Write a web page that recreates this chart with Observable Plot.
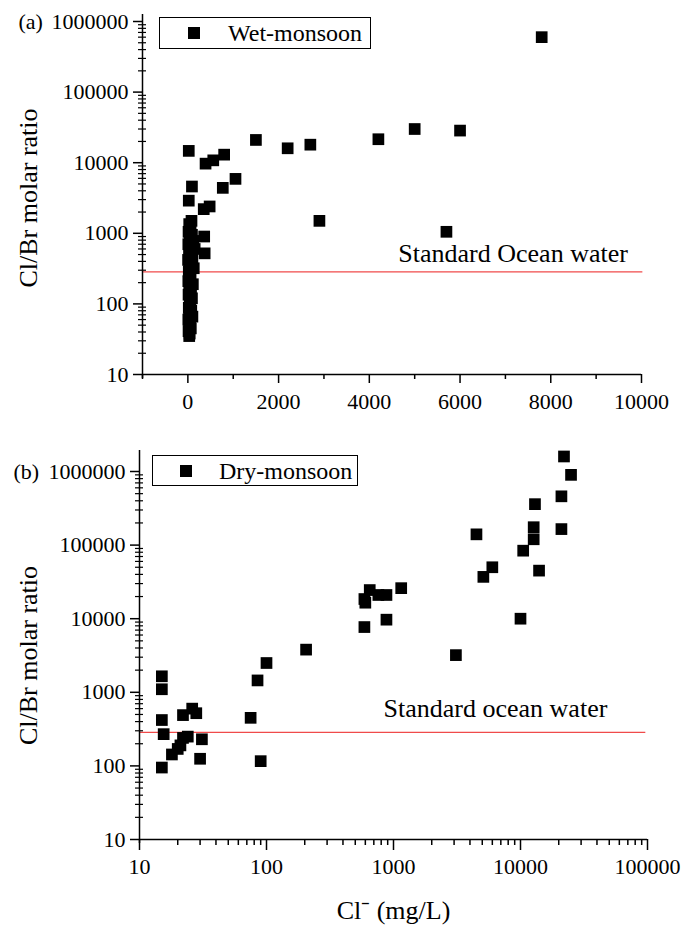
<!DOCTYPE html>
<html><head><meta charset="utf-8">
<script src="https://cdn.jsdelivr.net/npm/d3@7"></script>
<script src="https://cdn.jsdelivr.net/npm/@observablehq/plot@0.6"></script>
<style>
body{margin:0;background:#fff;font-family:"Liberation Serif","Times New Roman",serif;}
#wrap{position:relative;width:684px;height:931px;overflow:hidden;}
#wrap svg{display:block;}
.legend{position:absolute;border:1px solid #000;background:#fff;box-sizing:border-box;}
.legend .sw{position:absolute;width:12px;height:12px;background:#000;}
.legend .lt{position:absolute;font-size:24px;line-height:1;white-space:nowrap;color:#000;}
</style></head>
<body><div id="wrap"></div>
<script>
// ---------- data ----------
const wetCl = [7800, 2700, 4200, 5000, 6000, 2900, 5700, 20, 1500, 2200, 390, 560, 800, 90, 770, 1050, 20, 350, 480, 80, 360, 370,
  30, 60, 15, 90, 40, 120, 10, 70, 150, 25, 50, 100, 5, 80, 35, 130, 20, 60, 45, 10, 110, 30, 70, 15, 90, 40, 55, 20, 75, 30, 100, 10, 50, 25, 65, 15, 40, 30];
const wetRatio = [600000, 18000, 21500, 30000, 28500, 1500, 1050, 14700, 21000, 16000, 9700, 10800, 13000, 4600, 4400, 5900, 2900, 2200, 2400, 1500, 900, 520,
  1350, 1200, 1050, 950, 850, 780, 700, 640, 600, 560, 500, 460, 420, 380, 350, 320, 290, 260, 235, 210, 190, 170, 150, 135, 120, 108, 97, 88, 80, 72, 66, 60, 55, 50, 45, 41, 38, 35];

const dryCl = [22000, 25000, 21000, 13000, 12700, 12700, 21000, 4500, 10500, 14000, 6000, 5100, 1150, 880, 880, 3100, 10000,
  590, 600, 590, 650, 760, 15, 15, 85, 100, 205, 26, 15, 15.5, 15, 18, 20, 21, 22, 22, 24, 28, 30, 31, 75, 90];
const dryRatio = [1600000, 900000, 460000, 360000, 175000, 120000, 165000, 140000, 84000, 45000, 50000, 37000, 26000, 21000, 9700, 3200, 10000,
  18500, 16500, 7700, 24500, 21000, 1650, 1100, 1450, 2500, 3800, 600, 420, 270, 95, 143, 170, 190, 240, 490, 250, 520, 125, 230, 450, 116];

const oceanRatio = 285;
const wetXMajor = [0, 2000, 4000, 6000, 8000, 10000];
const wetXMinor = [-1000, 1000, 3000, 5000, 7000, 9000];
const logMajor = [10, 100, 1000, 10000, 100000, 1000000];
const logDecades = [10, 100, 1000, 10000, 100000];
const minorMult = [2, 3, 4, 5, 6, 7, 8, 9];
const logMinor = logDecades.flatMap(d => minorMult.map(m => m * d));
const dryXMajor = [10, 100, 1000, 10000, 100000];

// ---------- drawing ----------
const serif = '"Liberation Serif","Times New Roman",serif';
const red = "#f04a4a";
const noText = () => "";
const fmt = d3.format("d");

function dots(xs, ys) {
  return Plot.dot(d3.range(xs.length), {x: i => xs[i], y: i => ys[i], symbol: "square", r: 6.6, fill: "#000", stroke: "none"});
}

const topPlot = Plot.plot({
  width: 684, height: 425,
  marginLeft: 142, marginRight: 43, marginTop: 21, marginBottom: 51,
  style: {fontFamily: serif, fontSize: "22px", color: "#000", background: "#fff", overflow: "visible"},
  x: {type: "linear", domain: [-1000, 10000], label: null},
  y: {type: "log", domain: [10, 1000000], label: null},
  marks: [
    Plot.ruleY([oceanRatio], {x1: -1000, x2: 10030, stroke: red, strokeWidth: 1.3}),
    Plot.text(["Standard Ocean water"], {x: 9700, y: oceanRatio, textAnchor: "end", lineAnchor: "bottom", dy: -10, fontSize: 26}),
    dots(wetCl, wetRatio),
    Plot.ruleY([10], {stroke: "#000", strokeWidth: 1.5}),
    Plot.ruleX([-1000], {stroke: "#000", strokeWidth: 1.5, insetTop: -7, insetBottom: -4}),
    Plot.axisX({ticks: wetXMajor, tickSize: 9, tickPadding: 10, tickFormat: fmt, label: null, strokeWidth: 1.5}),
    Plot.axisX({ticks: wetXMinor, tickSize: 5, tickFormat: noText, label: null, strokeWidth: 1.5}),
    Plot.axisY({ticks: logMajor, tickSize: 9, tickPadding: 5, tickFormat: fmt, label: null, strokeWidth: 1.5}),
    Plot.axisY({ticks: logMinor, tickSize: 8, dx: 4, tickFormat: noText, label: null, strokeWidth: 1.2}),
    Plot.text(["Cl/Br molar ratio"], {frameAnchor: "left", rotate: -90, dx: -114, fontSize: 26, textAnchor: "middle", lineAnchor: "middle"}),
    Plot.text(["(a)"], {frameAnchor: "top-left", dx: -124, textAnchor: "start", fontSize: 22, lineAnchor: "middle"})
  ]
});

const botPlot = Plot.plot({
  width: 684, height: 506,
  marginLeft: 139, marginRight: 37, marginTop: 46, marginBottom: 92,
  style: {fontFamily: serif, fontSize: "22px", color: "#000", background: "#fff", overflow: "visible"},
  x: {type: "log", domain: [10, 100000], label: null},
  y: {type: "log", domain: [10, 1000000], label: null},
  marks: [
    Plot.ruleY([oceanRatio], {x1: 10, x2: 97000, stroke: red, strokeWidth: 1.3}),
    Plot.text(["Standard ocean water"], {x: 835, y: oceanRatio, textAnchor: "start", lineAnchor: "bottom", dy: -15, fontSize: 26}),
    dots(dryCl, dryRatio),
    Plot.ruleY([10], {stroke: "#000", strokeWidth: 1.5}),
    Plot.ruleX([10], {stroke: "#000", strokeWidth: 1.5, insetTop: -21, insetBottom: -4}),
    Plot.axisX({ticks: dryXMajor, tickSize: 11, tickPadding: 8, tickFormat: fmt, label: null, strokeWidth: 1.5}),
    Plot.axisX({ticks: logMinor.filter(v => v < 100000), tickSize: 6, tickFormat: noText, label: null, strokeWidth: 1.5}),
    Plot.axisY({ticks: logMajor, tickSize: 9, tickPadding: 5, tickFormat: fmt, label: null, strokeWidth: 1.5}),
    Plot.axisY({ticks: logMinor, tickSize: 8, dx: 4, tickFormat: noText, label: null, strokeWidth: 1.2}),
    Plot.text(["Cl/Br molar ratio"], {frameAnchor: "left", rotate: -90, dx: -111, fontSize: 26, textAnchor: "middle", lineAnchor: "middle"}),
    Plot.text(["(b)"], {frameAnchor: "top-left", dx: -126, textAnchor: "start", fontSize: 22, lineAnchor: "middle"}),
    Plot.text(["Cl\u207B (mg/L)"], {frameAnchor: "bottom", dy: 79, fontSize: 26, lineAnchor: "bottom"})
  ]
});

const wrap = document.getElementById("wrap");
wrap.appendChild(topPlot);
wrap.appendChild(botPlot);

function legend(left, top, width, height, label, swX, txtX) {
  const box = document.createElement("div");
  box.className = "legend";
  Object.assign(box.style, {left: left + "px", top: top + "px", width: width + "px", height: height + "px"});
  const sw = document.createElement("div");
  sw.className = "sw";
  Object.assign(sw.style, {left: (swX - left - 6) + "px", top: (height / 2 - 7) + "px"});
  const t = document.createElement("div");
  t.className = "lt";
  t.textContent = label;
  Object.assign(t.style, {left: (txtX - left) + "px", top: (height / 2 - 13) + "px"});
  box.appendChild(sw); box.appendChild(t);
  wrap.appendChild(box);
}
legend(159, 17, 212, 32, "Wet-monsoon", 193, 227);
legend(152, 455, 206, 31, "Dry-monsoon", 185, 218);
</script>
</body></html>
